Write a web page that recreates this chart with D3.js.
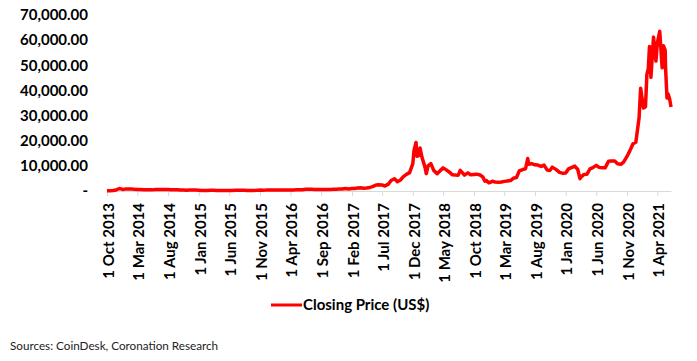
<!DOCTYPE html>
<html>
<head>
<meta charset="utf-8">
<script src="https://cdn.jsdelivr.net/npm/d3@7/dist/d3.min.js"></script>
<style>
  body { margin: 0; background: #fff; }
  svg { display: block; font-family: Lato, "Open Sans", sans-serif; }
</style>
</head>
<body>
<svg id="chart" width="697" height="361"></svg>
<script>
// Closing price series (CoinDesk)
const dates = [
  '2013-10-01', '2013-10-15', '2013-11-01', '2013-11-15', '2013-11-29', '2013-12-04', '2013-12-10', '2013-12-18', '2013-12-31',
  '2014-01-15', '2014-02-01', '2014-02-15', '2014-03-01', '2014-03-15', '2014-04-01', '2014-04-15', '2014-05-01', '2014-05-15',
  '2014-06-01', '2014-06-15', '2014-07-01', '2014-07-15', '2014-08-01', '2014-08-15', '2014-09-01', '2014-09-15', '2014-10-01',
  '2014-10-15', '2014-11-01', '2014-11-15', '2014-12-01', '2014-12-15',
  '2015-01-01', '2015-01-15', '2015-02-01', '2015-02-15', '2015-03-01', '2015-03-15', '2015-04-01', '2015-04-15', '2015-05-01',
  '2015-05-15', '2015-06-01', '2015-06-15', '2015-07-01', '2015-07-15', '2015-08-01', '2015-08-15', '2015-09-01', '2015-09-15',
  '2015-10-01', '2015-10-15', '2015-11-01', '2015-11-04', '2015-11-15', '2015-12-01', '2015-12-15',
  '2016-01-01', '2016-01-15', '2016-02-01', '2016-02-15', '2016-03-01', '2016-03-15', '2016-04-01', '2016-04-15', '2016-05-01',
  '2016-05-15', '2016-06-01', '2016-06-15', '2016-07-01', '2016-07-15', '2016-08-01', '2016-08-15', '2016-09-01', '2016-09-15',
  '2016-10-01', '2016-10-15', '2016-11-01', '2016-11-15', '2016-12-01', '2016-12-15',
  '2017-01-01', '2017-01-15', '2017-02-01', '2017-02-15', '2017-03-01', '2017-03-15', '2017-04-01', '2017-04-15', '2017-05-01',
  '2017-05-15', '2017-06-01', '2017-06-15', '2017-07-01', '2017-07-15', '2017-08-01', '2017-08-15', '2017-09-01', '2017-09-15',
  '2017-10-01', '2017-10-15', '2017-11-01', '2017-11-15', '2017-12-01', '2017-12-07', '2017-12-17', '2017-12-22', '2017-12-31',
  '2018-01-06', '2018-01-15', '2018-02-01', '2018-02-06', '2018-02-15', '2018-03-01', '2018-03-15', '2018-04-01', '2018-04-15',
  '2018-05-01', '2018-05-15', '2018-06-01', '2018-06-15', '2018-07-01', '2018-07-15', '2018-07-25', '2018-08-01', '2018-08-15',
  '2018-09-01', '2018-09-15', '2018-10-01', '2018-10-15', '2018-11-01', '2018-11-14', '2018-11-25', '2018-12-01', '2018-12-15',
  '2019-01-01', '2019-01-15', '2019-02-01', '2019-02-15', '2019-03-01', '2019-03-15', '2019-04-01', '2019-04-15', '2019-05-01',
  '2019-05-15', '2019-06-01', '2019-06-15', '2019-06-26', '2019-07-01', '2019-07-15', '2019-08-01', '2019-08-15', '2019-09-01',
  '2019-09-15', '2019-10-01', '2019-10-15', '2019-10-26', '2019-11-01', '2019-11-15', '2019-12-01', '2019-12-15',
  '2020-01-01', '2020-01-15', '2020-02-01', '2020-02-15', '2020-03-01', '2020-03-12', '2020-03-15', '2020-04-01', '2020-04-15',
  '2020-05-01', '2020-05-15', '2020-06-01', '2020-06-15', '2020-07-01', '2020-07-15', '2020-08-01', '2020-08-15', '2020-09-01',
  '2020-09-15', '2020-10-01', '2020-10-15', '2020-11-01', '2020-11-15', '2020-12-01', '2020-12-15', '2020-12-31',
  '2021-01-08', '2021-01-15', '2021-01-22', '2021-02-01', '2021-02-08', '2021-02-15', '2021-02-21', '2021-02-28', '2021-03-13',
  '2021-03-25', '2021-04-01', '2021-04-13', '2021-04-25', '2021-05-01', '2021-05-10', '2021-05-12', '2021-05-19', '2021-05-24',
  '2021-06-01', '2021-06-08',
];
const prices = [
  125, 140, 205, 420, 900, 950, 850, 600, 750,
  840, 830, 650, 560, 630, 480, 520, 450, 450,
  630, 600, 640, 620, 590, 500, 480, 470, 385,
  390, 325, 380, 380, 350,
  315, 210, 225, 235, 260, 285, 245, 220, 235,
  237, 223, 235, 257, 287, 280, 260, 228, 230,
  238, 255, 325, 400, 320, 360, 445,
  434, 375, 370, 400, 430, 415, 417, 430, 450,
  455, 535, 690, 675, 665, 605, 570, 575, 610,
  615, 640, 730, 710, 750, 780,
  998, 820, 980, 1010, 1220, 1250, 1080, 1180, 1420,
  1720, 2400, 2440, 2430, 1960, 2730, 4170, 4900, 3700,
  4400, 5700, 6700, 7300, 10900, 16000, 19300, 13800, 14150,
  17100, 13600, 9100, 6900, 10000, 10900, 8200, 6900, 8000,
  9200, 8500, 7500, 6500, 6350, 6300, 8200, 7600, 6300,
  7200, 6500, 6600, 6700, 6350, 5600, 3900, 4200, 3250,
  3850, 3600, 3500, 3600, 3830, 3950, 4150, 5050, 5350,
  8000, 8550, 8850, 12900, 10600, 10900, 10400, 10300, 9750,
  10300, 8300, 8200, 9500, 9200, 8500, 7400, 7100,
  7200, 8800, 9400, 9900, 8550, 4900, 5350, 6600, 6650,
  8800, 9300, 10200, 9400, 9230, 9200, 11800, 11900, 11900,
  10800, 10600, 11500, 13750, 15950, 18800, 19400, 29000,
  40900, 36800, 33000, 33500, 46400, 48700, 57500, 45200, 61200,
  51700, 58800, 63500, 49000, 57800, 56000, 49000, 37000, 38700,
  36700, 33400,
];
const tickDates = [
  '2013-10-01', '2014-03-01', '2014-08-01', '2015-01-01', '2015-06-01', '2015-11-01', '2016-04-01',
  '2016-09-01', '2017-02-01', '2017-07-01', '2017-12-01', '2018-05-01', '2018-10-01', '2019-03-01',
  '2019-08-01', '2020-01-01', '2020-06-01', '2020-11-01', '2021-04-01',
];
const yTicks = [0, 10000, 20000, 30000, 40000, 50000, 60000, 70000];
const seriesName = 'Closing Price (US$)';
const sourceText = 'Sources: CoinDesk, Coronation Research';

const parse = d3.timeParse('%Y-%m-%d');
const ds = dates.map((d, i) => ({ date: parse(d), value: prices[i] }));

const svg = d3.select('#chart');
const cs = {
  x: { left: 107, right: 671 },
  y: { top: 15, bottom: 191 },
  color: '#ff0000',
  axisColor: '#d9d9d9',
};

cs.x.scale = d3.scaleTime()
  .domain([parse('2013-10-01'), parse('2021-06-08')])
  .range([cs.x.left, cs.x.right]);
cs.y.scale = d3.scaleLinear()
  .domain([0, 70000])
  .range([cs.y.bottom, cs.y.top]);

// y axis: labels only
const yFmt = d3.format(',.2f');
const yAxis = d3.axisLeft(cs.y.scale)
  .tickValues(yTicks)
  .tickSize(0)
  .tickPadding(0)
  .tickFormat(d => (d === 0 ? '-' : yFmt(d)));
const gy = svg.append('g').attr('transform', 'translate(88,0)').call(yAxis);
gy.select('.domain').remove();
gy.selectAll('text')
  .attr('fill', '#000')
  .style('font-size', '15px')
  .style('font-weight', 'bold')
  .style('font-family', 'Lato, sans-serif');

// x axis
const xFmt = d3.timeFormat('%-d %b %Y');
const xAxis = d3.axisBottom(cs.x.scale)
  .tickValues(tickDates.map(parse))
  .tickSize(5)
  .tickSizeOuter(0)
  .tickFormat(xFmt);
const gx = svg.append('g').attr('transform', `translate(0,${cs.y.bottom})`).call(xAxis);
gx.select('.domain').attr('stroke', cs.axisColor);
gx.selectAll('.tick line').attr('stroke', cs.axisColor);
gx.selectAll('.tick text')
  .attr('fill', '#000')
  .attr('transform', 'rotate(-90)')
  .attr('text-anchor', 'end')
  .attr('x', -12)
  .attr('y', 1)
  .attr('dy', '0.35em')
  .style('font-size', '15px')
  .style('font-weight', 'bold')
  .style('font-family', 'Lato, sans-serif');

// price line
const line = d3.line()
  .x(d => cs.x.scale(d.date))
  .y(d => cs.y.scale(d.value));
svg.append('path')
  .datum(ds)
  .attr('d', line)
  .attr('fill', 'none')
  .attr('stroke', cs.color)
  .attr('stroke-width', 3.5)
  .attr('stroke-linejoin', 'round');

// legend
const lg = svg.append('g').attr('transform', 'translate(271,305)');
lg.append('line').attr('x1', 0).attr('x2', 31).attr('y1', 0).attr('y2', 0)
  .attr('stroke', cs.color).attr('stroke-width', 3);
lg.append('text').attr('x', 32).attr('y', 0).attr('dy', '0.35em')
  .style('font-size', '15px').style('font-weight', 'bold')
  .text(seriesName);

// source
svg.append('text').attr('x', 10).attr('y', 346).attr('dy', '0.35em')
  .style('font-size', '11.7px').attr('fill', '#222')
  .text(sourceText);
</script>
</body>
</html>
